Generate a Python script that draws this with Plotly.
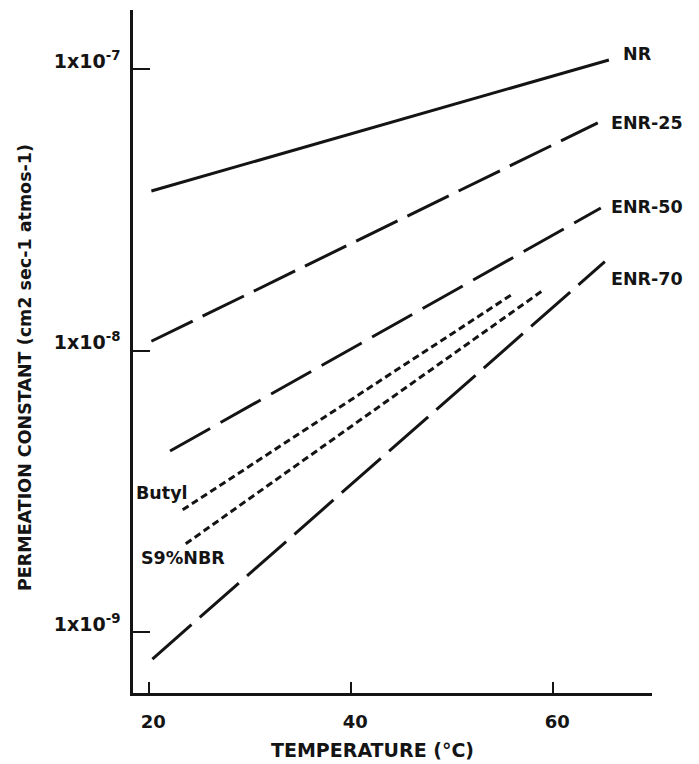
import math
import plotly.graph_objects as go

# Series: temperature °C (start, end) and permeation constant (start, end)
series_names = ["NR", "ENR-25", "ENR-50", "ENR-70", "Butyl", "S9%NBR"]
temps = {
    "NR": [20.2, 65.5],
    "ENR-25": [20.2, 64.4],
    "ENR-50": [22.05, 64.7],
    "ENR-70": [20.3, 65.1],
    "Butyl": [23.3, 56.1],
    "S9%NBR": [23.6, 59.0],
}
perm = {
    "NR": [3.69e-8, 1.078e-7],
    "ENR-25": [1.08e-8, 6.44e-8],
    "ENR-50": [4.40e-9, 3.21e-8],
    "ENR-70": [8.03e-10, 2.07e-8],
    "Butyl": [2.72e-9, 1.60e-8],
    "S9%NBR": [2.06e-9, 1.64e-8],
}
x_tick_vals = [20, 40, 60]
x_tick_text = ["20", "40", "60"]
y_tick_vals = [1e-9, 1e-8, 1e-7]
y_tick_text = ["1x10<sup>-9</sup>", "1x10<sup>-8</sup>", "1x10<sup>-7</sup>"]

dashes = {
    "NR": "solid",
    "ENR-25": "46px,11px",
    "ENR-50": "46px,12px",
    "ENR-70": "52px,11px",
    "Butyl": "7px,4px",
    "S9%NBR": "7px,4px",
}
# label placement: which end of line, anchor, pixel shifts
label_cfg = {
    "NR": (1, "left", 12, 6),
    "ENR-25": (1, "left", 11, 0),
    "ENR-50": (1, "left", 8, 1),
    "ENR-70": (1, "left", 4, -17),
    "Butyl": (0, "left", -49, 17),
    "S9%NBR": (0, "left", -47, -14),
}

FONT = "DejaVu Sans"
INK = "#141414"

fig = go.Figure()
for name in series_names:
    fig.add_trace(go.Scatter(
        x=temps[name], y=perm[name], mode="lines",
        line=dict(color=INK, width=3, dash=dashes[name]),
        showlegend=False, hoverinfo="skip"))
    idx, anchor, xs, ys = label_cfg[name]
    fig.add_annotation(
        x=temps[name][idx], y=math.log10(perm[name][idx]), xref="x", yref="y",
        text="<b>%s</b>" % name, showarrow=False, xanchor=anchor, yanchor="middle",
        xshift=xs, yshift=ys, font=dict(family=FONT, size=17.5, color=INK))

fig.update_layout(
    width=699, height=764,
    margin=dict(l=133, r=47, t=10, b=71),
    paper_bgcolor="white", plot_bgcolor="white",
    font=dict(family=FONT, color=INK),
)
fig.update_xaxes(
    range=[18.38, 69.77], showgrid=False, zeroline=False,
    showline=True, linecolor=INK, linewidth=2.5,
    tickmode="array", tickvals=x_tick_vals, ticktext=["<b>%s</b>" % t for t in x_tick_text],
    ticks="inside", ticklen=11, tickwidth=2, tickcolor=INK,
    tickfont=dict(family=FONT, size=18, color=INK), ticklabelstandoff=11,
    ticklabelshift=4,
)
fig.update_yaxes(
    type="log", range=[-9.216, -6.790], showgrid=False, zeroline=False,
    showline=True, linecolor=INK, linewidth=2.5,
    tickmode="array", tickvals=y_tick_vals, ticktext=["<b>%s</b>" % t for t in y_tick_text],
    ticks="inside", ticklen=17, tickwidth=2, tickcolor=INK,
    tickfont=dict(family=FONT, size=19, color=INK), ticklabelshift=-8,
    ticklabelstandoff=6,
)
fig.add_annotation(
    xref="paper", yref="paper", x=(372 - 133) / 519, y=-(750 - 693) / 683,
    text="<b>TEMPERATURE (°C)</b>", showarrow=False, xanchor="center", yanchor="middle",
    font=dict(family=FONT, size=19, color=INK))
fig.add_annotation(
    xref="paper", yref="paper", x=(25 - 133) / 519, y=(693 - 368) / 683,
    text="<b>PERMEATION CONSTANT (cm2 sec-1 atmos-1)</b>", showarrow=False,
    textangle=-90, xanchor="center", yanchor="middle",
    font=dict(family=FONT, size=17.5, color=INK))

fig.write_html("out.html")
